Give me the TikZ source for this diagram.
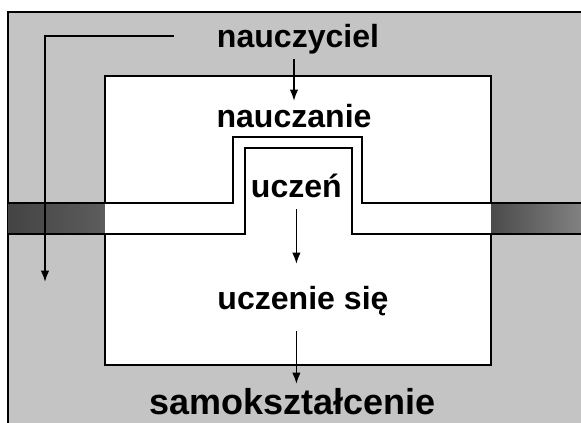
\documentclass[tikz,border=0pt]{standalone}
\usepackage{fontspec}
\setmainfont{Liberation Sans}
\usetikzlibrary{arrows.meta}
\definecolor{tlo}{HTML}{C4C4C4}
\definecolor{pas}{HTML}{4B4B4B}
\begin{document}
\begin{tikzpicture}[line width=1.5pt,
    napis/.style={inner sep=0.05cm,text height=0.6cm,text depth=0.2cm,anchor=base,
      font=\fontsize{22.8}{26}\selectfont\bfseries},
    strz/.style={line width=1.2pt,-{Latex[length=8pt,width=6pt]}}]
    \useasboundingbox (0,0) rectangle (14.525,10.575);
    % szare tlo z ramka
    \fill[tlo] (0.2,0) rectangle (14.525,10.275);
    \draw (0.2,0) -- (0.2,10.275) -- (14.525,10.275);
    % ciemny pas po bokach
    \shade[left color=pas!90!black,right color=pas!90!white] (0.2,4.725) rectangle (2.625,5.5);
    \shade[left color=pas,right color=pas!70!white] (12.275,4.725) rectangle (14.525,5.5);
    % biale pole
    \fill[white] (2.625,1.45) rectangle (12.275,8.675);
    \draw (2.625,5.5) -- (2.625,8.675) -- (12.275,8.675) -- (12.275,5.5);
    \draw (2.625,4.725) -- (2.625,1.45) -- (12.275,1.45) -- (12.275,4.725);
    % kanal z wybrzuszeniem
    \draw (0.2,5.5) -- (5.825,5.5) -- (5.825,7.15) -- (9.05,7.15) -- (9.05,5.5) -- (14.525,5.5);
    \draw (0.2,4.725) -- (6.125,4.725) -- (6.125,6.875) -- (8.8,6.875) -- (8.8,4.725) -- (14.525,4.725);
    % napisy
    \node[napis] (nauczyciel) at (7.45,9.375) {nauczyciel};
    \node[napis] (nauczanie) at (7.35,7.375) {nauczanie};
    \node[napis] (uczen) at (7.41,5.625) {uczeń};
    \node[napis] (uczenie) at (7.575,2.825) {uczenie się};
    \node[napis,text height=0.7cm,font=\fontsize{25.6}{30}\selectfont\bfseries] (samo) at (7.31,0.2) {samokształcenie};
    % strzalki
    \draw[strz] (nauczyciel.south -| nauczanie) -- (nauczanie.north);
    \draw[strz,shorten >=0.475cm] (uczen.south) -- (uczen.south |- uczenie.north);
    \draw[strz,shorten <=0.25cm] (uczenie.south -| uczen) -- (samo.north -| uczen);
    \coordinate (dol) at (1.125,3.525);
    \draw[strz] ([shift={(-1.0,0.1)}]nauczyciel.west) -| (dol);
\end{tikzpicture}
\end{document}
